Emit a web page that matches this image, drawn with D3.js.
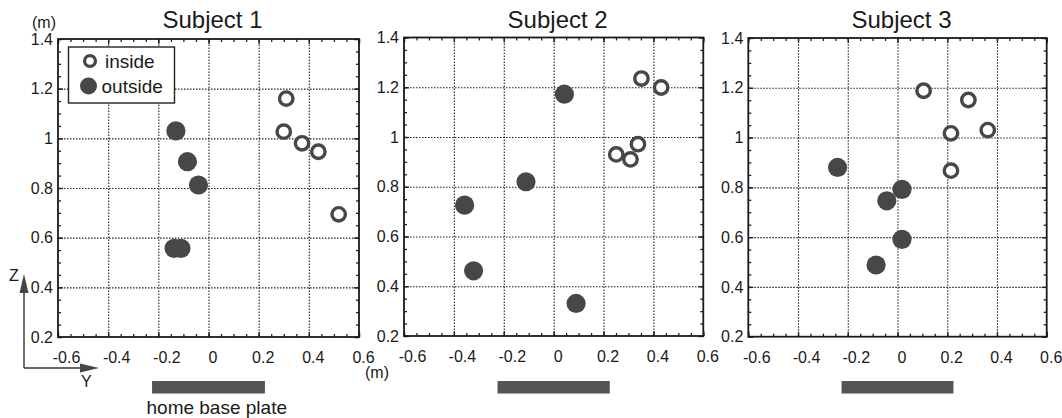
<!DOCTYPE html>
<html>
<head>
<meta charset="utf-8">
<script src="https://cdn.jsdelivr.net/npm/d3@7"></script>
<style>
  body { margin: 0; background: #fff; }
  svg { display: block; font-family: "Liberation Sans", Arial, Helvetica, sans-serif; }
  .grid line { stroke: #222; stroke-width: 1.1; stroke-dasharray: 1.5,1.5; }
  .grid path { display: none; }
  .ticks path { display: none; }
  .ticks line { stroke: #222; stroke-width: 1.3; }
  .labels path, .labels line { display: none; }
  .frame { fill: none; stroke: #1a1a1a; stroke-width: 1.8; }
  .title { font-size: 24px; fill: #1a1a1a; text-anchor: middle; }
  .note { font-size: 19px; fill: #1a1a1a; }
  .unit { font-size: 16px; fill: #1a1a1a; text-anchor: middle; }
</style>
</head>
<body>
<script>
// tick values and labels
const xTicks = [-0.6, -0.4, -0.2, 0, 0.2, 0.4, 0.6];
const xTickLabels = ["-0.6", "-0.4", "-0.2", "0", "0.2", "0.4", "0.6"];
const yTicks = [0.2, 0.4, 0.6, 0.8, 1, 1.2, 1.4];
const yTickLabels = ["0.2", "0.4", "0.6", "0.8", "1", "1.2", "1.4"];

const titles = ["Subject 1", "Subject 2", "Subject 3"];
const seriesNames = ["inside", "outside"];

// [Y (m), Z (m)]
const subject1Inside = [[0.31, 1.16], [0.30, 1.027], [0.373, 0.98], [0.438, 0.946], [0.519, 0.694]];
const subject1Outside = [[-0.13, 1.03], [-0.084, 0.906], [-0.04, 0.812], [-0.137, 0.557], [-0.11, 0.557]];
const subject2Inside = [[0.352, 1.235], [0.431, 1.199], [0.251, 0.93], [0.308, 0.91], [0.338, 0.971]];
const subject2Outside = [[0.043, 1.172], [-0.111, 0.82], [-0.357, 0.726], [-0.321, 0.462], [0.09, 0.331]];
const subject3Inside = [[0.105, 1.188], [0.285, 1.151], [0.363, 1.03], [0.215, 1.017], [0.215, 0.867]];
const subject3Outside = [[-0.241, 0.88], [0.018, 0.792], [-0.043, 0.746], [0.018, 0.591], [-0.086, 0.488]];

// home base plate extent in Y (m)
const plate = [-0.225, 0.225];

const insideSets = [subject1Inside, subject2Inside, subject3Inside];
const outsideSets = [subject1Outside, subject2Outside, subject3Outside];

// layout of the three panels (pixels)
const panelX = [[58, 359], [404, 703.3], [748.3, 1046.7]];
const panelY = [[337, 39], [336, 37.5], [336.7, 38]];
const markColor = "#474747";
const labelFont = "\"Liberation Sans\", Arial, sans-serif";

const svg = d3.select("body").append("svg")
  .attr("width", 1062)
  .attr("height", 418);

const minor = d3.range(-12, 13).map(i => i * 0.05);
const minorY = d3.range(4, 29).map(i => i * 0.05);

titles.forEach(function(title, p) {
  let x = d3.scaleLinear().domain([-0.6, 0.6]).range(panelX[p]);
  let y = d3.scaleLinear().domain([0.2, 1.4]).range(panelY[p]);
  let left = panelX[p][0], right = panelX[p][1];
  let bottom = panelY[p][0], top = panelY[p][1];
  let w = right - left, h = bottom - top;

  let g = svg.append("g");

  // gridlines
  g.append("g")
    .attr("class", "grid")
    .attr("transform", "translate(0," + bottom + ")")
    .call(d3.axisBottom(x).tickValues(xTicks.slice(1, -1)).tickSize(-h).tickFormat(""));
  g.append("g")
    .attr("class", "grid")
    .attr("transform", "translate(" + left + ",0)")
    .call(d3.axisLeft(y).tickValues(yTicks.slice(1, -1)).tickSize(-w).tickFormat(""));

  // ticks on all four sides, pointing inward
  g.append("g").attr("class", "ticks")
    .attr("transform", "translate(0," + bottom + ")")
    .call(d3.axisBottom(x).tickValues(minor).tickSize(-3).tickFormat(""));
  g.append("g").attr("class", "ticks")
    .attr("transform", "translate(0," + top + ")")
    .call(d3.axisTop(x).tickValues(minor).tickSize(-3).tickFormat(""));
  g.append("g").attr("class", "ticks")
    .attr("transform", "translate(" + left + ",0)")
    .call(d3.axisLeft(y).tickValues(minorY).tickSize(-3).tickFormat(""));
  g.append("g").attr("class", "ticks")
    .attr("transform", "translate(" + right + ",0)")
    .call(d3.axisRight(y).tickValues(minorY).tickSize(-3).tickFormat(""));
  g.append("g").attr("class", "ticks")
    .attr("transform", "translate(0," + bottom + ")")
    .call(d3.axisBottom(x).tickValues(xTicks).tickSize(-5).tickFormat(""));
  g.append("g").attr("class", "ticks")
    .attr("transform", "translate(0," + top + ")")
    .call(d3.axisTop(x).tickValues(xTicks).tickSize(-5).tickFormat(""));
  g.append("g").attr("class", "ticks")
    .attr("transform", "translate(" + left + ",0)")
    .call(d3.axisLeft(y).tickValues(yTicks).tickSize(-5).tickFormat(""));
  g.append("g").attr("class", "ticks")
    .attr("transform", "translate(" + right + ",0)")
    .call(d3.axisRight(y).tickValues(yTicks).tickSize(-5).tickFormat(""));

  // frame
  g.append("rect")
    .attr("class", "frame")
    .attr("x", left).attr("y", top)
    .attr("width", w).attr("height", h);

  // tick labels
  let xl = g.append("g").attr("class", "labels")
    .attr("transform", "translate(0," + bottom + ")")
    .call(d3.axisBottom(x).tickValues(xTicks).tickSize(0).tickPadding(15)
      .tickFormat((d, i) => xTickLabels[i]));
  xl.selectAll("text")
    .attr("dx", d => d < 0 ? 8 : 4)
    .style("font-size", "16px")
    .style("font-family", labelFont)
    .attr("fill", "#1a1a1a");

  let yl = g.append("g").attr("class", "labels")
    .attr("transform", "translate(" + left + ",0)")
    .call(d3.axisLeft(y).tickValues(yTicks).tickSize(0).tickPadding(5)
      .tickFormat((d, i) => yTickLabels[i]));
  yl.selectAll("text")
    .style("font-size", "16px")
    .style("font-family", labelFont)
    .attr("fill", "#1a1a1a");

  // title
  g.append("text")
    .attr("class", "title")
    .attr("x", (left + right) / 2 + 4)
    .attr("y", 28)
    .text(title);

  // outside (filled)
  g.selectAll(".out")
    .data(outsideSets[p])
    .enter().append("circle")
    .attr("class", "out")
    .attr("cx", d => x(d[0]))
    .attr("cy", d => y(d[1]))
    .attr("r", 9.6)
    .attr("fill", markColor);

  // inside (open)
  g.selectAll(".in")
    .data(insideSets[p])
    .enter().append("circle")
    .attr("class", "in")
    .attr("cx", d => x(d[0]))
    .attr("cy", d => y(d[1]))
    .attr("r", 6.7)
    .attr("fill", "#fff")
    .attr("stroke", markColor)
    .attr("stroke-width", 3.4);

  // home base plate
  g.append("rect")
    .attr("x", x(plate[0]))
    .attr("y", 381)
    .attr("width", x(plate[1]) - x(plate[0]))
    .attr("height", 12.5)
    .attr("fill", "#555");
});

// legend in the first panel
let legend = svg.append("g");
legend.append("rect")
  .attr("x", 68.5).attr("y", 47)
  .attr("width", 106).attr("height", 56)
  .attr("fill", "#fff").attr("stroke", "#222").attr("stroke-width", 1.4);
legend.append("circle")
  .attr("cx", 90).attr("cy", 61).attr("r", 5.4)
  .attr("fill", "#fff").attr("stroke", markColor).attr("stroke-width", 3.3);
legend.append("circle")
  .attr("cx", 88.5).attr("cy", 86).attr("r", 8.5)
  .attr("fill", markColor);
legend.append("text").attr("class", "note")
  .attr("x", 105).attr("y", 68).text(seriesNames[0]);
legend.append("text").attr("class", "note")
  .attr("x", 101.5).attr("y", 93).text(seriesNames[1]);

// units
svg.append("text").attr("class", "unit").attr("x", 44).attr("y", 28).text("(m)");
svg.append("text").attr("class", "unit").attr("x", 377).attr("y", 378).text("(m)");

// Y/Z direction arrows
svg.append("line")
  .attr("x1", 24).attr("y1", 368).attr("x2", 24).attr("y2", 288)
  .attr("stroke", "#333").attr("stroke-width", 1.4);
svg.append("line")
  .attr("x1", 24).attr("y1", 368).attr("x2", 82).attr("y2", 368)
  .attr("stroke", "#333").attr("stroke-width", 1.4);
svg.append("path")
  .attr("d", "M24,274 L19.5,293 L28.5,293 Z")
  .attr("fill", "#444");
svg.append("path")
  .attr("d", "M99,368 L80,363.5 L80,372.5 Z")
  .attr("fill", "#444");
svg.append("text").attr("x", 9).attr("y", 281)
  .style("font-size", "16px").attr("fill", "#1a1a1a").text("Z");
svg.append("text").attr("x", 81).attr("y", 387)
  .style("font-size", "16px").attr("fill", "#1a1a1a").text("Y");

svg.append("text").attr("class", "note")
  .attr("x", 146.5).attr("y", 414)
  .text("home base plate");
</script>
</body>
</html>
